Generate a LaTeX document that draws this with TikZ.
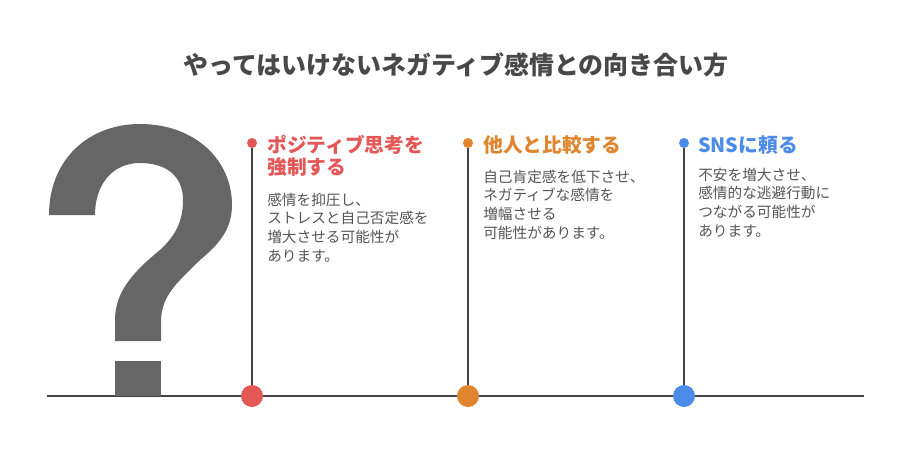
\documentclass[tikz,border=0pt]{standalone}
\usepackage{fontspec}
\setmainfont{Noto Sans CJK JP}
\usetikzlibrary{positioning}
\definecolor{cred}{RGB}{228,87,87}
\definecolor{corange}{RGB}{224,133,46}
\definecolor{cblue}{RGB}{76,139,232}
\definecolor{qgray}{RGB}{102,102,102}
\definecolor{linegray}{RGB}{68,68,68}
\definecolor{textgray}{RGB}{85,85,85}
\definecolor{titlegray}{RGB}{72,72,72}

\begin{document}
\begin{tikzpicture}[x=0.75pt, y=-0.75pt,
	dot/.style={circle, inner sep=0pt, minimum size=16.5pt},
	pin/.style={circle, inner sep=0pt, minimum size=7.5pt},
	axis/.style={draw=linegray, line width=1.5pt},
	head/.style={font=\bfseries\fontsize{14.8pt}{16.5pt}\selectfont, align=left, inner sep=0pt, anchor=base west},
	body/.style={font=\fontsize{11pt}{13.9pt}\selectfont, text=textgray, align=left, inner sep=0pt, anchor=base west}]
	\path[use as bounding box] (0,0) rectangle (912,469);
	\node (title) [font=\bfseries\fontsize{18.7pt}{22pt}\selectfont, text=titlegray, anchor=base] at (456,74)
		{やってはいけないネガティブ感情との向き合い方};
	% timeline
	\coordinate (lstart) at (47,396); \coordinate (lend) at (864,396);
	\node (rdot) [dot, fill=cred] at (252,396) {}; \node (odot) [dot, fill=corange] at (468,396) {};
	\node (bdot) [dot, fill=cblue] at (684,396) {};
	\draw[axis] (lstart) -- (rdot); \draw[axis] (rdot) -- (odot); \draw[axis] (odot) -- (bdot);
	\draw[axis] (bdot) -- (lend);
	% question mark
	\fill[qgray] (49,215) .. controls (49,160) and (88,124) .. (140,124)
		.. controls (195,124) and (232,160) .. (232,205)
		.. controls (232,230) and (218,245) .. (200,260)
		.. controls (178,282) and (161,295) .. (161,322) -- (161,341) -- (115,341) -- (115,320)
		.. controls (115,292) and (133,272) .. (160,250)
		.. controls (175,236) and (183,222) .. (183,200)
		.. controls (183,175) and (165,163) .. (140,163)
		.. controls (112,163) and (95,185) .. (95,215) -- cycle;
	\fill[qgray] (115,361) rectangle (161,396);
	% columns (base = last line)
	\node (rpin) [pin, fill=cred] at (252,143) {}; \draw[axis] (rpin) -- (rdot);
	\node (opin) [pin, fill=corange] at (468,143) {}; \draw[axis] (opin) -- (odot);
	\node (bpin) [pin, fill=cblue] at (684,143) {}; \draw[axis] (bpin) -- (bdot);
	\node (rhead) [head, text=cred] at (267,174) {ポジティブ思考を\\強制する};
	\node (rbody) [body] at (267,261) {感情を抑圧し、\\ストレスと自己否定感を\\増大させる可能性が\\あります。};
	\node (ohead) [head, text=corange] at (483,152) {他人と比較する};
	\node (obody) [body] at (483,238) {自己肯定感を低下させ、\\ネガティブな感情を\\増幅させる\\可能性があります。};
	\node (bhead) [head, text=cblue] at (698,152) {SNSに頼る};
	\node (bbody) [body] at (698,236) {不安を増大させ、\\感情的な逃避行動に\\つながる可能性が\\あります。};
\end{tikzpicture}
\end{document}
